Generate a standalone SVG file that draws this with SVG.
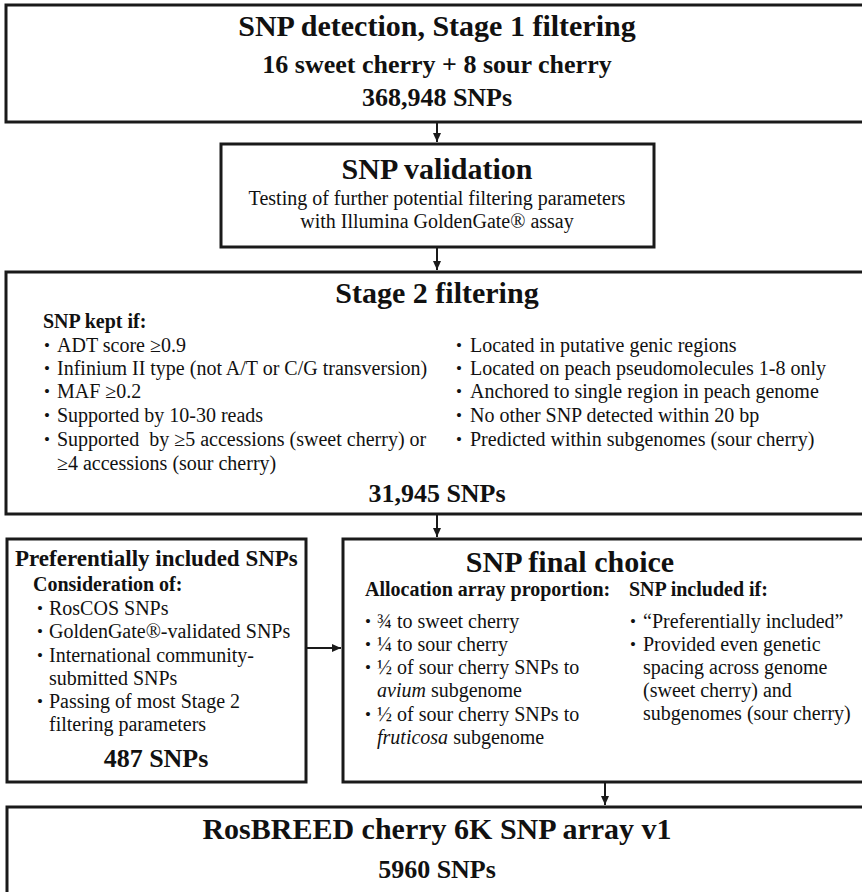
<svg xmlns="http://www.w3.org/2000/svg" width="862" height="892" viewBox="0 0 862 892">
<style>
text{font-family:"Liberation Serif","Times New Roman",serif;fill:#111}
.box{fill:#fff;stroke:#1a1a1a;stroke-width:3}
.h1{font-size:30px;font-weight:bold;text-anchor:middle}
.h2{font-size:26px;font-weight:bold;text-anchor:middle}
.hl{font-size:23px;font-weight:bold}
.b{font-size:20px;font-weight:bold}
.t{font-size:20px}
.tc{font-size:20px;text-anchor:middle}
.bl{font-size:17px}
.conn line{stroke:#1a1a1a;stroke-width:2}
</style>
<defs>
<marker id="ah" markerWidth="10" markerHeight="10" refX="9" refY="5" orient="auto" markerUnits="userSpaceOnUse">
<path d="M0,1 L9,5 L0,9 Z" fill="#1a1a1a"/>
</marker>
</defs>
<rect width="862" height="892" fill="#fff"/>

<g id="stage1">
<rect class="box" x="6" y="5" width="870" height="117"/>
<text class="h1" x="437" y="36">SNP detection, Stage 1 filtering</text>
<text class="h2" x="437" y="73">16 sweet cherry + 8 sour cherry</text>
<text class="h2" x="437" y="106">368,948 SNPs</text>
</g>

<g id="validation">
<rect class="box" x="221" y="144" width="433" height="103"/>
<text class="h1" x="437" y="179">SNP validation</text>
<text class="tc" x="437" y="205">Testing of further potential filtering parameters</text>
<text class="tc" x="437" y="228">with Illumina GoldenGate® assay</text>
</g>

<g id="stage2">
<rect class="box" x="6" y="272" width="870" height="242"/>
<text class="h1" x="437" y="303">Stage 2 filtering</text>
<text class="b" x="43" y="328">SNP kept if:</text>
<text class="bl" x="44" y="351">•</text><text class="t" x="57" y="352">ADT score ≥0.9</text>
<text class="bl" x="44" y="374">•</text><text class="t" x="57" y="375">Infinium II type (not A/T or C/G transversion)</text>
<text class="bl" x="44" y="397">•</text><text class="t" x="57" y="398">MAF ≥0.2</text>
<text class="bl" x="44" y="421">•</text><text class="t" x="57" y="422">Supported by 10-30 reads</text>
<text class="bl" x="44" y="445">•</text><text class="t" x="57" y="446">Supported&#160; by ≥5 accessions (sweet cherry) or</text>
<text class="t" x="57" y="470">≥4 accessions (sour cherry)</text>
<text class="bl" x="456" y="351">•</text><text class="t" x="470" y="352">Located in putative genic regions</text>
<text class="bl" x="456" y="374">•</text><text class="t" x="470" y="375">Located on peach pseudomolecules 1-8 only</text>
<text class="bl" x="456" y="397">•</text><text class="t" x="470" y="398">Anchored to single region in peach genome</text>
<text class="bl" x="456" y="421">•</text><text class="t" x="470" y="422">No other SNP detected within 20 bp</text>
<text class="bl" x="456" y="445">•</text><text class="t" x="470" y="446">Predicted within subgenomes (sour cherry)</text>
<text class="h2" x="437" y="502">31,945 SNPs</text>
</g>

<g id="preferential">
<rect class="box" x="7" y="539" width="299" height="243"/>
<text class="hl" x="15" y="566">Preferentially included SNPs</text>
<text class="b" x="33" y="591">Consideration of:</text>
<text class="bl" x="37" y="614">•</text><text class="t" x="49" y="615">RosCOS SNPs</text>
<text class="bl" x="37" y="637">•</text><text class="t" x="49" y="638">GoldenGate®-validated SNPs</text>
<text class="bl" x="37" y="661">•</text><text class="t" x="49" y="662">International community-</text>
<text class="t" x="49" y="685">submitted SNPs</text>
<text class="bl" x="37" y="707">•</text><text class="t" x="49" y="708">Passing of most Stage 2</text>
<text class="t" x="49" y="731">filtering parameters</text>
<text class="h2" x="156" y="767">487 SNPs</text>
</g>

<g id="final">
<rect class="box" x="343" y="539" width="533" height="243"/>
<text class="h1" x="570" y="572">SNP final choice</text>
<text class="b" x="365" y="596">Allocation array proportion:</text>
<text class="bl" x="365" y="627">•</text><text class="t" x="377" y="628">¾ to sweet cherry</text>
<text class="bl" x="365" y="650">•</text><text class="t" x="377" y="651">¼ to sour cherry</text>
<text class="bl" x="365" y="673">•</text><text class="t" x="377" y="674">½ of sour cherry SNPs to</text>
<text class="t" x="377" y="697"><tspan font-style="italic">avium</tspan> subgenome</text>
<text class="bl" x="365" y="720">•</text><text class="t" x="377" y="721">½ of sour cherry SNPs to</text>
<text class="t" x="377" y="744"><tspan font-style="italic">fruticosa</tspan> subgenome</text>
<text class="b" x="629" y="596">SNP included if:</text>
<text class="bl" x="630" y="627">•</text><text class="t" x="643" y="628">“Preferentially included”</text>
<text class="bl" x="630" y="650">•</text><text class="t" x="643" y="651">Provided even genetic</text>
<text class="t" x="643" y="674">spacing across genome</text>
<text class="t" x="643" y="697">(sweet cherry) and</text>
<text class="t" x="643" y="720">subgenomes (sour cherry)</text>
</g>

<g id="array">
<rect class="box" x="7" y="807" width="869" height="100"/>
<text class="h1" x="437" y="839">RosBREED cherry 6K SNP array v1</text>
<text class="h2" x="437" y="878">5960 SNPs</text>
</g>

<g class="conn" id="connectors">
<line x1="437" y1="123" x2="437" y2="142" marker-end="url(#ah)"/>
<line x1="437" y1="248" x2="437" y2="270" marker-end="url(#ah)"/>
<line x1="437" y1="515" x2="437" y2="537" marker-end="url(#ah)"/>
<line x1="307" y1="648" x2="341" y2="648" marker-end="url(#ah)"/>
<line x1="605" y1="783" x2="605" y2="805" marker-end="url(#ah)"/>
</g>
</svg>
